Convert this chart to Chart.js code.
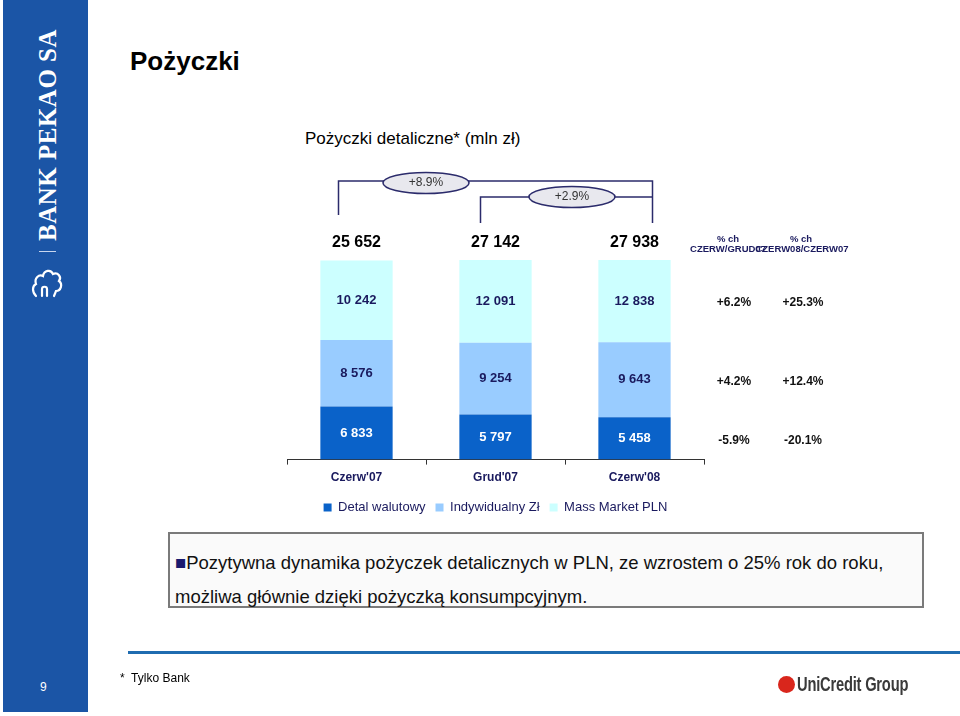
<!DOCTYPE html>
<html>
<head>
<meta charset="utf-8">
<script src="https://cdn.jsdelivr.net/npm/chart.js@4.4.0/dist/chart.umd.min.js"></script>
<style>
  body { margin: 0; background: #fff; font-family: "Liberation Sans", Arial, sans-serif; }
  #page { position: relative; width: 960px; height: 716px; overflow: hidden; }
  #side { position: absolute; left: 3px; top: 0; width: 85px; height: 712px; background: #1B55A6; }
  #bank { position: absolute; left: 45px; top: 135px; transform: translate(-50%, -50%) rotate(-90deg);
          color: #fff; font-family: "Liberation Serif", "DejaVu Serif", serif; font-weight: bold;
          font-size: 25px; white-space: nowrap; letter-spacing: 0.5px; }
  #sep { position: absolute; left: 36px; top: 251px; width: 17px; height: 1px; background: #c8d6ee; }
  #logo { position: absolute; left: 27px; top: 262px; }
  #pnum { position: absolute; left: 37px; top: 680px; color: #fff; font-size: 12px; }
  #title { position: absolute; left: 130px; top: 46px; font-size: 26px; font-weight: bold; color: #000; }
  #sub { position: absolute; left: 305px; top: 129px; font-size: 17px; color: #000; white-space: nowrap; }
  #wrap { position: absolute; left: 0; top: 0; width: 960px; height: 716px; }
  #box { position: absolute; left: 168px; top: 532px; width: 752px; height: 72px; border: 2px solid #7a7a7a;
         background: #fafafa; }
  .line { position: absolute; left: 175px; font-size: 18.5px; color: #111; white-space: nowrap; }
  .sq { color: #1a1a6e; }
  #rule { position: absolute; left: 128px; top: 651px; width: 832px; height: 3px; background: #1F6CB0; }
  #foot { position: absolute; left: 120px; top: 671px; font-size: 12px; color: #000; }
  #uc { position: absolute; left: 778px; top: 672px; white-space: nowrap; }
  #uc i { display: inline-block; width: 17px; height: 17px; border-radius: 50%; background: #D9261C;
          vertical-align: -2px; margin-right: 2px; }
  #uc span { display: inline-block; font-weight: bold; font-size: 21px; color: #3a3a3a;
             transform: scaleX(0.7); transform-origin: left center; letter-spacing: -0.3px; }
</style>
</head>
<body>
<div id="page">
  <div id="side">
    <div id="bank">BANK PEKAO SA</div>
    <div id="sep"></div>
    <svg id="logo" width="34" height="40" viewBox="0 0 34 40">
      <path d="M6 34 C2 30 2 24 6 22 C4 16 9 12 13 14 C14 8 21 7 23 12 C28 10 32 15 29 19 C33 22 31 29 26 29 L24 34 M12 34 L12 27 C12 24 17 24 17 27 L17 34"
            fill="none" stroke="#fff" stroke-width="2.2" stroke-linecap="round"/>
    </svg>
    <div id="pnum">9</div>
  </div>
  <div id="title">Pożyczki</div>
  <div id="sub">Pożyczki detaliczne* (mln zł)</div>
  <div id="wrap"><canvas id="chart"></canvas></div>
  <div id="box"></div>
  <div class="line" style="top:552px"><span class="sq">■</span>Pozytywna dynamika pożyczek detalicznych w PLN, ze wzrostem o 25% rok do roku,</div>
  <div class="line" style="top:586px">możliwa głównie dzięki pożyczką konsumpcyjnym.</div>
  <div id="rule"></div>
  <div id="foot">*&nbsp; Tylko Bank</div>
  <div id="uc"><i></i><span>UniCredit Group</span></div>
</div>
<script>
const categories = ["Czerw'07", "Grud'07", "Czerw'08"];
const seriesNames = ["Detal walutowy", "Indywidualny Zł", "Mass Market PLN"];
const detalWalutowy = [6833, 5797, 5458];
const indywidualny = [8576, 9254, 9643];
const massMarket = [10242, 12091, 12838];
const totals = [25652, 27142, 27938];
const growthLabels = ["+8.9%", "+2.9%"];
const pctHeaders = [["% ch", "CZERW/GRUD07"], ["% ch", "CZERW08/CZERW07"]];
// rows in dataset order: detal, indywidualny, mass market
const pctVsGrud = ["-5.9%", "+4.2%", "+6.2%"];
const pctVsCzerw = ["-20.1%", "+12.4%", "+25.3%"];

const colors = ["#0A62C9", "#99CCFF", "#CCFFFF"];
const navy = "#1a1a5e";

function fmt(n) {
    return String(n).replace(/\B(?=(\d{3})+(?!\d))/g, " ");
}

const labelsPlugin = {
    id: "labelsPlugin",
    afterDraw(chart) {
        const ctx = chart.ctx;
        const area = chart.chartArea;
        const x = chart.scales.x;
        ctx.save();
        ctx.textAlign = "center";
        ctx.textBaseline = "middle";

        // values inside the segments
        chart.data.datasets.forEach((ds, di) => {
            const meta = chart.getDatasetMeta(di);
            meta.data.forEach((bar, i) => {
                const top = Math.max(bar.y, area.top);
                const bot = Math.min(bar.base, area.bottom);
                ctx.font = "bold 13px 'Liberation Sans', Arial";
                ctx.fillStyle = di === 0 ? "#ffffff" : navy;
                ctx.fillText(fmt(ds.data[i]), bar.x, (top + bot) / 2);
            });
        });

        // totals
        ctx.font = "bold 16px 'Liberation Sans', Arial";
        ctx.fillStyle = "#000";
        totals.forEach((t, i) => {
            ctx.fillText(fmt(t), x.getPixelForValue(i), area.top - 17);
        });

        // growth brackets
        const c0 = x.getPixelForValue(0), c1 = x.getPixelForValue(1), c2 = x.getPixelForValue(2);
        ctx.strokeStyle = "#2b2b6b";
        ctx.lineWidth = 1.5;
        ctx.beginPath();
        ctx.moveTo(c0 - 18, area.top - 45);
        ctx.lineTo(c0 - 18, area.top - 79);
        ctx.lineTo(c2 + 18, area.top - 79);
        ctx.lineTo(c2 + 18, area.top - 37);
        ctx.moveTo(c1 - 15, area.top - 37);
        ctx.lineTo(c1 - 15, area.top - 63);
        ctx.lineTo(c2 + 18, area.top - 63);
        ctx.stroke();
        const ells = [[x.getPixelForValue(0.5), area.top - 77], [x.getPixelForValue(1.55), area.top - 63]];
        ctx.font = "12px 'Liberation Sans', Arial";
        ells.forEach((e, k) => {
            ctx.beginPath();
            ctx.ellipse(e[0], e[1], 43, 10.5, 0, 0, Math.PI * 2);
            ctx.fillStyle = "#e8e8ee";
            ctx.fill();
            ctx.stroke();
            ctx.fillStyle = "#333";
            ctx.fillText(growthLabels[k], e[0], e[1]);
        });

        // % change columns
        const colX = [734, 803];
        ctx.font = "bold 9.5px 'Liberation Sans', Arial";
        ctx.fillStyle = navy;
        pctHeaders.forEach((h, k) => {
            ctx.fillText(h[0], colX[k] - 6 + k * 4, area.top - 21);
            ctx.fillText(h[1], colX[k] - 6 + k * 5, area.top - 11);
        });
        const last = [0, 1, 2].map(di => chart.getDatasetMeta(di).data[2]);
        ctx.font = "bold 12px 'Liberation Sans', Arial";
        ctx.fillStyle = "#111";
        last.forEach((bar, di) => {
            const top = Math.max(bar.y, area.top);
            const bot = Math.min(bar.base, area.bottom);
            const cy = (top + bot) / 2 + 2;
            ctx.fillText(pctVsGrud[di], colX[0], cy);
            ctx.fillText(pctVsCzerw[di], colX[1], cy);
        });
        ctx.restore();
    }
};

new Chart(document.getElementById("chart"), {
    type: "bar",
    data: {
        labels: categories,
        datasets: [
            { label: seriesNames[0], data: detalWalutowy, backgroundColor: colors[0] },
            { label: seriesNames[1], data: indywidualny, backgroundColor: colors[1] },
            { label: seriesNames[2], data: massMarket, backgroundColor: colors[2] }
        ]
    },
    options: {
        responsive: true,
        maintainAspectRatio: false,
        animation: false,
        datasets: { bar: { categoryPercentage: 1, barPercentage: 0.52 } },
        layout: { padding: { left: 287, right: 256, top: 260, bottom: 192 } },
        scales: {
            x: {
                stacked: true,
                border: { display: true, color: "#333", width: 1 },
                grid: { display: true, drawOnChartArea: false, tickLength: 5, color: "#333", offset: true },
                ticks: { padding: 6, color: navy, font: { family: "'Liberation Sans', Arial", size: 12, weight: "bold" } }
            },
            y: { stacked: true, display: false, min: 0, max: 25700 }
        },
        plugins: {
            legend: {
                position: "bottom",
                labels: {
                    boxWidth: 8, boxHeight: 8, padding: 10, color: navy,
                    font: { family: "'Liberation Sans', Arial", size: 13 }
                }
            },
            tooltip: { enabled: false }
        }
    },
    plugins: [labelsPlugin]
});
</script>
</body>
</html>
